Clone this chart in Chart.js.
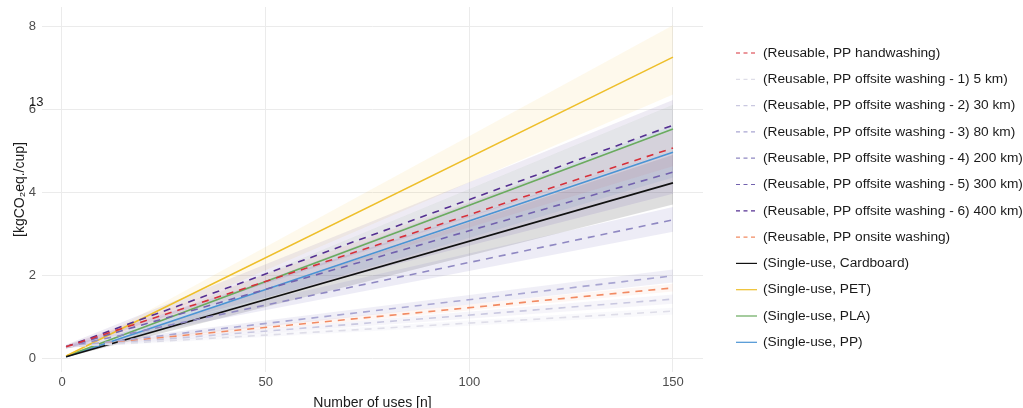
<!DOCTYPE html>
<html>
<head>
<meta charset="utf-8">
<script src="https://cdn.jsdelivr.net/npm/chart.js@4/dist/chart.umd.min.js"></script>
<style>
  html, body { margin: 0; padding: 0; background: #fff; }
</style>
</head>
<body>
<canvas id="chart" width="1023" height="408"></canvas>
<script>
// data: values at n = 1 and n = 150
const uses = [1, 150];

const seriesNames = [
  "(Reusable, PP handwashing)",
  "(Reusable, PP offsite washing - 1) 5 km)",
  "(Reusable, PP offsite washing - 2) 30 km)",
  "(Reusable, PP offsite washing - 3) 80 km)",
  "(Reusable, PP offsite washing - 4) 200 km)",
  "(Reusable, PP offsite washing - 5) 300 km)",
  "(Reusable, PP offsite washing - 6) 400 km)",
  "(Reusable, PP onsite washing)",
  "(Single-use, Cardboard)",
  "(Single-use, PET)",
  "(Single-use, PLA)",
  "(Single-use, PP)",
];

const meanValues = [
  [0.27, 5.06], [0.27, 1.13], [0.27, 1.42], [0.27, 1.98], [0.27, 3.33], [0.27, 4.48],
  [0.27, 5.61], [0.27, 1.69], [0.03, 4.22], [0.05, 7.25], [0.04, 5.52], [0.03, 4.96],
];
const lowerValues = [
  [0.23, 4.62], [0.24, 1.05], [0.24, 1.31], [0.24, 1.82], [0.23, 3.04], [0.23, 3.96],
  [0.22, 5.00], [0.24, 1.60], [0.02, 3.70], [0.04, 6.35], [0.03, 4.90], [0.02, 4.35],
];
const upperValues = [
  [0.31, 5.50], [0.30, 1.21], [0.30, 1.53], [0.30, 2.13], [0.31, 3.64], [0.31, 5.00],
  [0.32, 6.22], [0.30, 1.79], [0.04, 4.90], [0.06, 8.02], [0.05, 6.10], [0.04, 5.60],
];

const xTicks = [0, 50, 100, 150];
const yTicks = [0, 2, 4, 6, 8];

// styles
const lineColors = [
  "#d7303a", "#dedde8", "#c9c8e0", "#a9a6d2", "#8f88c2", "#7262ae",
  "#553092", "#f28a62", "#111111", "#eebf2a", "#6aab5e", "#4a94d4",
];
const bandColors = [
  "rgba(215,48,58,0.06)", "rgba(200,198,225,0.10)", "rgba(180,176,215,0.12)",
  "rgba(150,140,200,0.14)", "rgba(130,120,190,0.14)", "rgba(110,95,175,0.14)",
  "rgba(90,60,150,0.10)", "rgba(242,138,98,0.08)", "rgba(0,0,0,0.13)",
  "rgba(240,190,40,0.09)", "rgba(106,171,94,0.08)", "rgba(74,148,212,0.10)",
];
const dashed = [true, true, true, true, true, true, true, true, false, false, false, false];

const FONT = '"Liberation Sans", Arial, sans-serif';
Chart.defaults.font.family = FONT;

const toPoints = (pair) => pair.map((v, k) => ({ x: uses[k], y: v }));

const datasets = seriesNames.map((name, i) => ({
  label: name,
  data: toPoints(meanValues[i]),
  borderColor: lineColors[i],
  borderWidth: 1.6,
  borderDash: dashed[i] ? [7, 6] : [],
  pointRadius: 0,
  fill: false,
  order: 0,
}));

seriesNames.forEach((name, i) => {
  datasets.push({
    label: name + " low",
    data: toPoints(lowerValues[i]),
    borderWidth: 0,
    pointRadius: 0,
    fill: false,
    order: 1,
  });
  datasets.push({
    label: name + " high",
    data: toPoints(upperValues[i]),
    borderWidth: 0,
    pointRadius: 0,
    backgroundColor: bandColors[i],
    fill: "-1",
    order: 1,
  });
});

const sideLegend = {
  id: "sideLegend",
  afterDraw(chart) {
    const ctx = chart.ctx;
    ctx.save();
    ctx.font = `13.7px ${FONT}`;
    ctx.textBaseline = "middle";
    ctx.textAlign = "left";
    seriesNames.forEach((name, i) => {
      const y = 53 + i * 26.3;
      ctx.strokeStyle = lineColors[i];
      ctx.lineWidth = 1.2;
      ctx.setLineDash(dashed[i] ? [4, 3.5] : []);
      ctx.beginPath();
      ctx.moveTo(736, y);
      ctx.lineTo(757, y);
      ctx.stroke();
      ctx.setLineDash([]);
      ctx.fillStyle = "#1a1a1a";
      ctx.fillText(name, 763, y);
    });
    // stray label sitting on top of the "6" tick
    ctx.font = `13px ${FONT}`;
    ctx.fillStyle = "#222";
    ctx.fillText("13", 29, 102);
    ctx.restore();
  },
};

new Chart(document.getElementById("chart"), {
  type: "line",
  data: { datasets },
  plugins: [sideLegend],
  options: {
    responsive: false,
    animation: false,
    layout: { padding: { top: 7, right: 320, left: 0, bottom: 0 } },
    plugins: { legend: { display: false }, tooltip: { enabled: false } },
    scales: {
      x: {
        type: "linear",
        min: -4.91,
        max: 157.37,
        afterBuildTicks: (s) => { s.ticks = xTicks.map((v) => ({ value: v })); },
        afterFit: (s) => { s.height = 36; },
        grid: { color: "#ebebeb", drawTicks: false },
        border: { display: false },
        ticks: { padding: 3, color: "#4d4d4d", font: { size: 13 }, maxRotation: 0 },
        title: {
          display: true,
          text: "Number of uses [n]",
          color: "#1a1a1a",
          font: { size: 14 },
          padding: { top: 0, bottom: -4 },
        },
      },
      y: {
        min: -0.337,
        max: 8.458,
        afterBuildTicks: (s) => { s.ticks = yTicks.map((v) => ({ value: v })); },
        afterFit: (s) => { s.width = 42; s.paddingTop = 0; s.paddingBottom = 0; },
        grid: { color: "#ebebeb", drawTicks: false },
        border: { display: false },
        ticks: { padding: 6, color: "#4d4d4d", font: { size: 13 } },
        title: {
          display: true,
          text: "[kgCO\u2082eq./cup]",
          color: "#1a1a1a",
          font: { size: 14 },
          padding: { top: 12, bottom: 0 },
        },
      },
    },
  },
});
</script>
</body>
</html>
